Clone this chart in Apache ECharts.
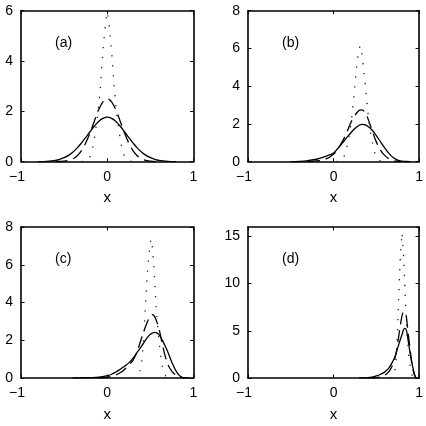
<!DOCTYPE html>
<html>
<head>
<meta charset="utf-8">
<script src="https://cdn.jsdelivr.net/npm/echarts@6/dist/echarts.min.js"></script>
<style>html,body{margin:0;padding:0;background:#fff}#c{width:426px;height:426px}</style>
</head>
<body>
<div id="c"></div>
<script>
// ---- data ----
const panelLabels = ['(a)', '(b)', '(c)', '(d)'];
const xTicks = [-1, 0, 1];
const yMaxes = [6, 8, 8, 16];
const yIntervals = [2, 2, 2, 5];

const aSolid = [[-0.8,0.002],[-0.7,0.016],[-0.6,0.055],[-0.55,0.096],[-0.5,0.16],[-0.45,0.25],[-0.4,0.38],[-0.35,0.54],[-0.3,0.74],[-0.25,0.96],[-0.2,1.19],[-0.15,1.41],[-0.1,1.6],[-0.05,1.72],[0,1.77],[0.05,1.72],[0.1,1.6],[0.15,1.41],[0.2,1.19],[0.25,0.96],[0.3,0.74],[0.35,0.54],[0.4,0.38],[0.45,0.25],[0.5,0.16],[0.55,0.096],[0.6,0.055],[0.7,0.016],[0.8,0.002]];
const aDash = [[-0.6,0.002],[-0.5,0.019],[-0.45,0.048],[-0.4,0.11],[-0.35,0.23],[-0.3,0.43],[-0.25,0.74],[-0.2,1.14],[-0.15,1.61],[-0.1,2.06],[-0.05,2.38],[0,2.5],[0.05,2.38],[0.1,2.06],[0.15,1.61],[0.2,1.14],[0.25,0.74],[0.3,0.43],[0.35,0.23],[0.4,0.11],[0.45,0.048],[0.5,0.019],[0.6,0.002]];
const aDot = [[-0.3,0],[-0.25,0.03],[-0.22,0.1],[-0.2,0.2],[-0.18,0.4],[-0.16,0.7],[-0.14,1.15],[-0.12,1.6],[-0.1,2.2],[-0.08,2.95],[-0.06,3.95],[-0.04,4.8],[-0.02,5.5],[0,5.95],[0.02,5.5],[0.04,4.8],[0.06,3.95],[0.08,2.95],[0.1,2.2],[0.12,1.6],[0.14,1.15],[0.16,0.7],[0.18,0.4],[0.2,0.2],[0.22,0.1],[0.25,0.03],[0.3,0]];

const bSolid = [[-0.5,0],[-0.4,0.02],[-0.3,0.06],[-0.2,0.13],[-0.1,0.27],[0,0.46],[0.05,0.7],[0.1,0.97],[0.15,1.25],[0.2,1.52],[0.25,1.76],[0.3,1.93],[0.33,1.98],[0.36,1.96],[0.4,1.88],[0.45,1.68],[0.5,1.38],[0.55,1.05],[0.6,0.72],[0.65,0.43],[0.7,0.21],[0.75,0.08],[0.8,0.03],[0.85,0.01],[0.9,0]];
const bDash = [[-0.3,0.01],[-0.2,0.04],[-0.1,0.12],[0,0.4],[0.05,0.68],[0.1,1.05],[0.15,1.5],[0.2,2.05],[0.25,2.45],[0.3,2.72],[0.33,2.75],[0.36,2.66],[0.4,2.3],[0.45,1.65],[0.5,1.05],[0.55,0.6],[0.6,0.32],[0.65,0.15],[0.7,0.06],[0.75,0.02],[0.8,0]];
const bDot = [[0.03,0],[0.08,0.05],[0.11,0.17],[0.13,0.35],[0.15,0.65],[0.17,1.1],[0.19,1.6],[0.21,2.25],[0.23,3.1],[0.25,4.1],[0.27,5.0],[0.29,5.75],[0.31,6.15],[0.33,5.75],[0.35,5.0],[0.37,4.1],[0.39,3.1],[0.41,2.25],[0.43,1.6],[0.45,1.1],[0.47,0.65],[0.49,0.35],[0.51,0.17],[0.54,0.05],[0.59,0]];

const cSolid = [[-0.4,0],[-0.3,0.01],[-0.2,0.02],[-0.1,0.04],[0,0.12],[0.05,0.2],[0.1,0.32],[0.15,0.46],[0.2,0.62],[0.25,0.8],[0.3,1.05],[0.35,1.38],[0.4,1.7],[0.45,2.05],[0.5,2.32],[0.55,2.42],[0.6,2.3],[0.65,1.9],[0.7,1.4],[0.75,0.82],[0.8,0.35],[0.85,0.08],[0.9,0.01],[0.95,0]];
const cDash = [[-0.1,0],[0,0.04],[0.05,0.08],[0.1,0.16],[0.15,0.28],[0.2,0.45],[0.25,0.68],[0.3,0.95],[0.35,1.45],[0.4,2.15],[0.45,2.8],[0.5,3.3],[0.52,3.36],[0.55,3.25],[0.6,2.6],[0.65,1.55],[0.7,0.75],[0.75,0.35],[0.8,0.14],[0.85,0.03],[0.9,0]];
const cDot = [[0.3,0],[0.34,0.06],[0.36,0.15],[0.38,0.4],[0.4,0.85],[0.42,2.0],[0.44,3.6],[0.46,5.2],[0.48,6.4],[0.5,7.2],[0.51,7.36],[0.52,7.1],[0.54,6.0],[0.56,4.3],[0.58,3.0],[0.6,1.95],[0.62,1.15],[0.64,0.6],[0.66,0.25],[0.68,0.08],[0.71,0]];

const dSolid = [[0.3,0],[0.4,0.04],[0.45,0.1],[0.5,0.22],[0.55,0.4],[0.6,0.65],[0.65,1.1],[0.7,1.9],[0.72,2.3],[0.75,3.2],[0.8,4.6],[0.83,5.25],[0.85,5.1],[0.87,4.1],[0.89,2.9],[0.91,1.85],[0.93,1.0],[0.95,0.3],[0.96,0.05],[0.97,0]];
const dDash = [[0.4,0],[0.5,0.05],[0.55,0.12],[0.6,0.3],[0.65,0.7],[0.7,1.6],[0.73,2.6],[0.76,4.3],[0.79,6.1],[0.81,6.9],[0.83,7.0],[0.85,6.5],[0.87,4.9],[0.89,3.4],[0.91,1.9],[0.93,0.8],[0.95,0.2],[0.97,0]];
const dDot = [[0.66,0],[0.7,0.2],[0.72,0.9],[0.73,1.8],[0.74,3.2],[0.75,5.5],[0.76,8.2],[0.78,12.8],[0.8,15.4],[0.82,12.8],[0.84,8.2],[0.86,4.5],[0.88,2.2],[0.9,0.9],[0.92,0.2],[0.94,0]];

const solids = [aSolid, bSolid, cSolid, dSolid];
const dashes = [aDash, bDash, cDash, dDash];
const dots = [aDot, bDot, cDot, dDot];

// ---- layout ----
const gridLefts = [21, 248, 21, 248];
const gridTops = [10.7, 10.7, 227, 227];
const gridW = 172.5, gridH = 151;
const FONT = "'Liberation Sans', Arial, Helvetica, sans-serif";

const chart = echarts.init(document.getElementById('c'), null, {renderer: 'canvas'});

const grids = [], xAxes = [], yAxes = [], series = [], graphics = [];
for (let i = 0; i < 4; i++) {
  grids.push({left: gridLefts[i], top: gridTops[i], width: gridW, height: gridH, containLabel: false});
  const lineCommon = {show: true, onZero: false, lineStyle: {color: '#000', width: 1.6}};
  const tickCommon = {show: true, inside: true, length: 3.5, lineStyle: {color: '#000', width: 1}};
  xAxes.push({
    type: 'value', gridIndex: i, position: 'bottom', min: -1, max: 1, interval: 1,
    axisLine: lineCommon, axisTick: tickCommon, splitLine: {show: false},
    name: 'x', nameLocation: 'middle', nameGap: 29,
    nameTextStyle: {fontFamily: FONT, fontSize: 15, color: '#000'},
    axisLabel: {
      margin: 8, color: '#000', fontFamily: FONT, fontSize: 14,
      formatter: v => v < 0 ? '\u2212' + Math.abs(v) + '{s|}' : String(v),
      rich: {s: {width: 8}}
    }
  });
  xAxes.push({
    type: 'value', gridIndex: i, position: 'top', min: -1, max: 1, interval: 1,
    axisLine: lineCommon, axisTick: tickCommon, splitLine: {show: false}, axisLabel: {show: false}
  });
  yAxes.push({
    type: 'value', gridIndex: i, position: 'left', min: 0, max: yMaxes[i], interval: yIntervals[i],
    axisLine: lineCommon, axisTick: tickCommon, splitLine: {show: false},
    axisLabel: {margin: 8, color: '#000', fontFamily: FONT, fontSize: 14, showMaxLabel: i === 3 ? false : true}
  });
  yAxes.push({
    type: 'value', gridIndex: i, position: 'right', min: 0, max: yMaxes[i], interval: yIntervals[i],
    axisLine: lineCommon, axisTick: tickCommon, splitLine: {show: false}, axisLabel: {show: false}
  });
  const base = {type: 'line', xAxisIndex: 2 * i, yAxisIndex: 2 * i, showSymbol: false, symbol: 'none', animation: false, silent: true};
  series.push(Object.assign({}, base, {data: solids[i], smooth: 0.35, lineStyle: {color: '#000', width: 1.3, type: 'solid'}}));
  series.push(Object.assign({}, base, {data: dashes[i], smooth: 0.35, lineStyle: {color: '#000', width: 1.3, type: [12, 6]}}));
  series.push(Object.assign({}, base, {data: dots[i], smooth: false, lineStyle: {color: '#222', width: 1.3, type: [1.3, 8.7]}}));
  graphics.push({
    type: 'text', x: gridLefts[i] + 34, y: gridTops[i] + 32,
    style: {text: panelLabels[i], font: '14px ' + FONT, fill: '#000', align: 'left', verticalAlign: 'middle'}
  });
}

chart.setOption({
  animation: false,
  backgroundColor: '#fff',
  grid: grids, xAxis: xAxes, yAxis: yAxes, series: series, graphic: graphics
});
</script>
</body>
</html>
